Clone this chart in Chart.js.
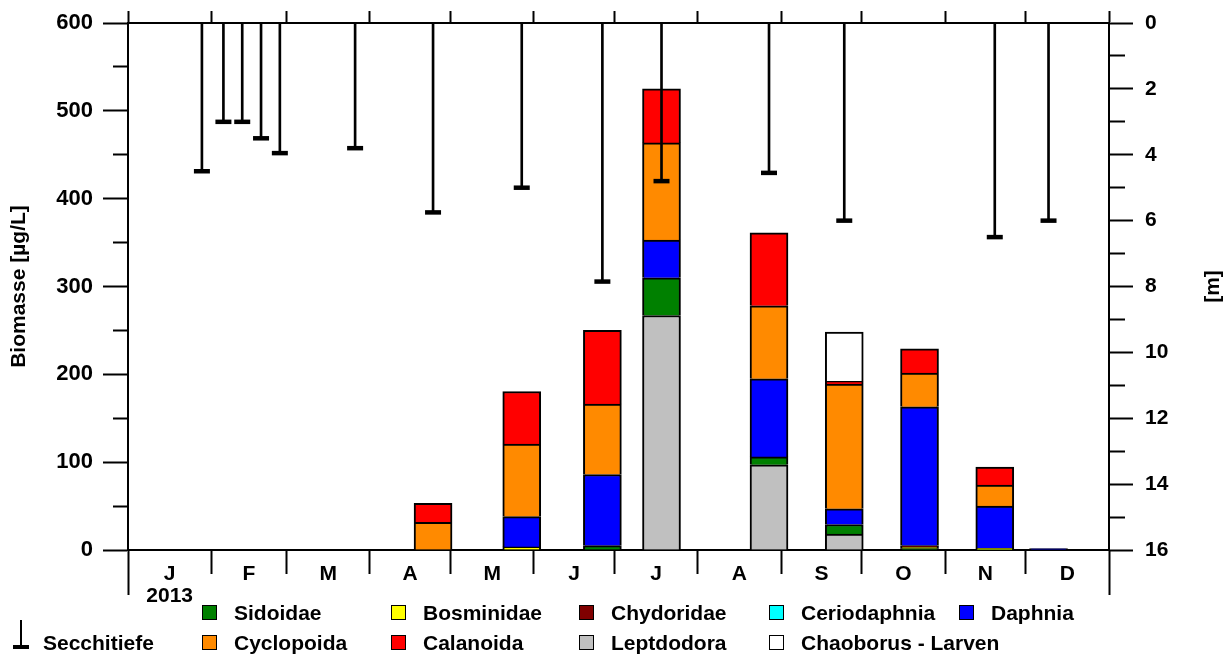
<!DOCTYPE html>
<html>
<head>
<meta charset="utf-8">
<script src="https://cdn.jsdelivr.net/npm/chart.js@4.4.1/dist/chart.umd.min.js"></script>
<style>
  html, body { margin: 0; padding: 0; background: #fff; }
  #wrap { position: relative; width: 1232px; height: 657px; font-family: 'Liberation Sans', Arial, sans-serif; font-weight: bold; color: #000; }
  #chartCanvas { position: absolute; left: 0; top: 0; }
  .lg { position: absolute; height: 24px; font-size: 21px; line-height: 24px; white-space: nowrap; }
  .lg .box { position: absolute; left: 0; top: 4px; width: 13px; height: 13px; border: 1.5px solid #000; }
  .lg .txt { position: absolute; left: 32px; top: 0; }
  .secchi-v { position: absolute; left: 20px; top: 620px; width: 2px; height: 27px; background: #000; }
  .secchi-h { position: absolute; left: 13px; top: 645px; width: 16px; height: 4px; background: #000; }
</style>
</head>
<body>
<div id="wrap">
  <canvas id="chartCanvas" width="1232" height="657"></canvas>
  <div id="legend"></div>
</div>
<script>
// --- Data ---

const sampleDates = ['2013-04-24', '2013-05-27', '2013-06-26', '2013-07-18', '2013-08-27', '2013-09-24', '2013-10-22', '2013-11-19', '2013-12-09'];
const leptodora    = [0, 0, 0, 267, 97, 18, 0, 0, 0];
const sidoidae     = [0, 0, 5, 43, 9, 11, 1.5, 0.5, 0];
const bosminidae   = [0, 3.5, 0, 0, 0, 0, 2, 1.5, 0];
const chydoridae   = [0, 0, 0, 0, 0, 0, 1.5, 0, 0];
const ceriodaphnia = [0, 0, 0, 0, 0, 0, 0, 0, 0];
const daphnia      = [0, 34.5, 81, 43, 89, 18, 158, 48, 1.5];
const cyclopoida   = [31.5, 82.5, 80, 110.5, 83, 142, 38.5, 24, 0];
const calanoida    = [21.5, 60, 84, 61.5, 83, 3, 27.5, 20.5, 0];
const chaoborus    = [0, 0, 0, 0, 0, 56, 0, 0, 0];

const secchiDates = ['2013-01-28', '2013-02-05', '2013-02-12', '2013-02-19', '2013-02-26', '2013-03-26', '2013-04-24',
                     '2013-05-27', '2013-06-26', '2013-07-18', '2013-08-27', '2013-09-24', '2013-11-19', '2013-12-09'];
const secchiDepth = [4.5, 3.0, 3.0, 3.5, 3.95, 3.8, 5.75, 5.0, 7.85, 4.8, 4.55, 6.0, 6.5, 6.0];

// stacking order (bottom first)
const seriesNames  = ['Leptdodora', 'Sidoidae', 'Bosminidae', 'Chydoridae', 'Ceriodaphnia', 'Daphnia', 'Cyclopoida', 'Calanoida', 'Chaoborus - Larven'];
const seriesValues = [leptodora, sidoidae, bosminidae, chydoridae, ceriodaphnia, daphnia, cyclopoida, calanoida, chaoborus];
const seriesColors = ['#C0C0C0', '#008000', '#FFFF00', '#800000', '#00FFFF', '#0000FF', '#FF8A00', '#FF0000', '#FFFFFF'];
const legendOrder  = [1, 2, 3, 4, 5, 6, 7, 0, 8];

const monthLabels = ['J', 'F', 'M', 'A', 'M', 'J', 'J', 'A', 'S', 'O', 'N', 'D'];
const yearLabel = '2013';
const secchiLabel = 'Secchitiefe';

// --- Helpers ---

const YEAR = 2013;
const DAY = 86400000;
function dayOf(s) {
    const [y, m, d] = s.split('-').map(Number);
    return (Date.UTC(y, m - 1, d) - Date.UTC(YEAR, 0, 1)) / DAY + 0.5;
}
const monthStarts = [];
for (let m = 0; m <= 12; m++) monthStarts.push((Date.UTC(YEAR, m, 1) - Date.UTC(YEAR, 0, 1)) / DAY);
const monthMids = monthLabels.map((_, i) => (monthStarts[i] + monthStarts[i + 1]) / 2);
const yearEnd = monthStarts[12];

const FONT = { family: "'Liberation Sans', Arial, sans-serif", size: 21, weight: 'bold', lineHeight: 1.05 };
Chart.defaults.color = '#000';
Chart.defaults.font = FONT;

// --- Datasets ---

const biomassSets = seriesNames.map((name, k) => ({
    type: 'bar',
    label: name,
    data: sampleDates.map((d, i) => ({ x: dayOf(d), y: seriesValues[k][i] })),
    backgroundColor: seriesColors[k],
    borderColor: '#000',
    borderWidth: 2,
    borderSkipped: 'start',
    barThickness: 38,
    grouped: false,
    xAxisID: 'x',
    yAxisID: 'y',
    order: 1
}));

const secchiLines = {
    type: 'bar',
    label: secchiLabel,
    data: secchiDates.map((d, i) => ({ x: dayOf(d), y: [0, secchiDepth[i]] })),
    backgroundColor: '#000',
    borderWidth: 0,
    barThickness: 2,
    grouped: false,
    xAxisID: 'x',
    yAxisID: 'y2',
    order: 0
};

const secchiCaps = {
    type: 'scatter',
    label: secchiLabel,
    data: secchiDates.map((d, i) => ({ x: dayOf(d), y: secchiDepth[i] })),
    pointStyle: 'line',
    pointRadius: 8,
    pointBorderWidth: 4.5,
    borderColor: '#000',
    backgroundColor: '#000',
    showLine: false,
    xAxisID: 'x',
    yAxisID: 'y2',
    order: 0
};

// right axis title reads bottom to top like the left one
const rightTitle = {
    id: 'rightTitle',
    afterDraw(chart) {
        const { ctx, chartArea } = chart;
        ctx.save();
        ctx.font = "bold 21px 'Liberation Sans', Arial, sans-serif";
        ctx.fillStyle = '#000';
        ctx.textAlign = 'center';
        ctx.textBaseline = 'middle';
        ctx.translate(1213, (chartArea.top + chartArea.bottom) / 2);
        ctx.rotate(-Math.PI / 2);
        ctx.fillText('[m]', 0, 0);
        ctx.restore();
    }
};

const axisBorder = { display: true, color: '#000', width: 2 };

const chart = new Chart(document.getElementById('chartCanvas'), {
    type: 'bar',
    data: { datasets: [secchiLines, secchiCaps, ...biomassSets] },
    options: {
        responsive: false,
        animation: false,
        layout: { padding: { top: 22, left: 0, right: 0, bottom: 0 }, autoPadding: false },
        plugins: { legend: { display: false }, tooltip: { enabled: false } },
        scales: {
            x: {
                type: 'linear', position: 'bottom', weight: 0, min: 0, max: yearEnd, offset: false,
                afterBuildTicks: s => { s.ticks = monthStarts.map(v => ({ value: v })); },
                afterFit: s => { s.height = 0; },
                ticks: { display: false },
                grid: {
                    offset: false, drawOnChartArea: false, tickLength: 45, tickWidth: 2, tickColor: '#000',
                    tickBorderDash: c => (c.tick && (c.tick.value === 0 || c.tick.value === yearEnd)) ? [] : [23, 22]
                },
                border: axisBorder
            },
            x2: {
                type: 'linear', position: 'bottom', weight: 1, min: 0, max: yearEnd, offset: false,
                afterBuildTicks: s => { s.ticks = monthMids.map(v => ({ value: v })); },
                afterFit: s => { s.height = 657 - 550; },
                ticks: {
                    autoSkip: false, maxRotation: 0, minRotation: 0, padding: 13,
                    callback: (v, i) => i === 0 ? [monthLabels[0], yearLabel] : monthLabels[i]
                },
                grid: { offset: false, display: false, drawTicks: false },
                border: { display: false }
            },
            xTop: {
                type: 'linear', position: 'top', min: 0, max: yearEnd, offset: false,
                afterBuildTicks: s => { s.ticks = monthStarts.map(v => ({ value: v })); },
                afterFit: s => { s.height = 0; },
                ticks: { display: false },
                grid: { offset: false, drawOnChartArea: false, tickLength: 12, tickWidth: 2, tickColor: '#000' },
                border: axisBorder
            },
            y: {
                type: 'linear', position: 'left', min: 0, max: 600, stacked: true,
                afterFit: s => { s.width = 128; },
                ticks: { stepSize: 50, autoSkip: false, padding: 10, font: { size: 22 }, callback: v => v % 100 === 0 ? v : '' },
                grid: {
                    drawOnChartArea: false, tickLength: 25, tickWidth: 2, tickColor: '#000',
                    tickBorderDash: c => (c.tick && c.tick.value % 100) ? [0, 10, 15, 0] : []
                },
                border: axisBorder,
                title: { display: true, text: 'Biomasse [µg/L]', padding: { top: 8, bottom: 0 } }
            },
            y2: {
                type: 'linear', position: 'right', min: 0, max: 16, reverse: true, stacked: false,
                afterFit: s => { s.width = 1232 - 1109; },
                ticks: { stepSize: 1, autoSkip: false, padding: 12, callback: v => v % 2 === 0 ? v : '' },
                grid: {
                    drawOnChartArea: false, tickLength: 24, tickWidth: 2, tickColor: '#000',
                    tickBorderDash: c => (c.tick && c.tick.value % 2) ? [15, 9] : []
                },
                border: axisBorder
            }
        }
    },
    plugins: [rightTitle]
});

// --- Legend ---

const legend = document.getElementById('legend');
const colX = [202, 391, 579, 769, 959];
const rowY = [601, 631];
legendOrder.forEach((k, n) => {
    const item = document.createElement('div');
    item.className = 'lg';
    item.style.left = colX[n % 5] + 'px';
    item.style.top = rowY[Math.floor(n / 5)] + 'px';
    item.innerHTML = '<div class="box" style="background:' + seriesColors[k] + '"></div><span class="txt"></span>';
    item.querySelector('.txt').textContent = seriesNames[k];
    legend.appendChild(item);
});
const sv = document.createElement('div'); sv.className = 'secchi-v'; legend.appendChild(sv);
const sh = document.createElement('div'); sh.className = 'secchi-h'; legend.appendChild(sh);
const st = document.createElement('div');
st.className = 'lg';
st.style.left = '43px';
st.style.top = rowY[1] + 'px';
st.textContent = secchiLabel;
legend.appendChild(st);
</script>
</body>
</html>
